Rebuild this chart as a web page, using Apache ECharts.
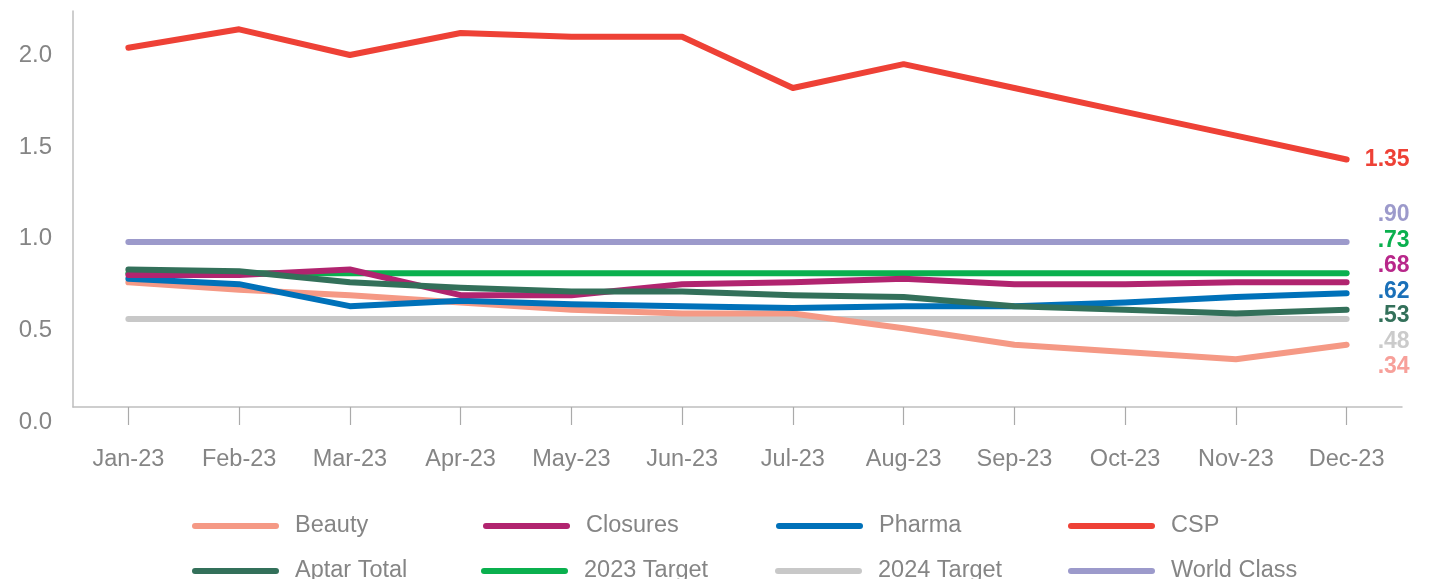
<!DOCTYPE html>
<html>
<head>
<meta charset="utf-8">
<script src="https://cdn.jsdelivr.net/npm/echarts@6/dist/echarts.min.js"></script>
<style>
html,body{margin:0;padding:0;background:#fff;}
#chart{width:1437px;height:579px;}
</style>
</head>
<body>
<div id="chart"></div>
<script>
const months = ['Jan-23','Feb-23','Mar-23','Apr-23','May-23','Jun-23','Jul-23','Aug-23','Sep-23','Oct-23','Nov-23','Dec-23'];
const beauty     = [0.68,0.64,0.61,0.57,0.53,0.51,0.51,0.43,0.34,0.30,0.26,0.34];
const closures   = [0.72,0.72,0.75,0.61,0.61,0.67,0.68,0.70,0.67,0.67,0.68,0.68];
const pharma     = [0.70,0.67,0.55,0.58,0.56,0.55,0.54,0.55,0.55,0.57,0.60,0.62];
const csp        = [1.96,2.06,1.92,2.04,2.02,2.02,1.74,1.87,1.74,1.61,1.48,1.35];
const aptarTotal = [0.75,0.74,0.68,0.65,0.63,0.63,0.61,0.60,0.55,0.53,0.51,0.53];
const target2023 = [0.73,0.73,0.73,0.73,0.73,0.73,0.73,0.73,0.73,0.73,0.73,0.73];
const target2024 = [0.48,0.48,0.48,0.48,0.48,0.48,0.48,0.48,0.48,0.48,0.48,0.48];
const worldClass = [0.90,0.90,0.90,0.90,0.90,0.90,0.90,0.90,0.90,0.90,0.90,0.90];
const endLabels  = {'Beauty':'.34','Closures':'.68','Pharma':'.62','CSP':'1.35','Aptar Total':'.53','2023 Target':'.73','2024 Target':'.48','World Class':'.90'};

const FONT = '"Liberation Sans", Arial, Helvetica, sans-serif';
const seriesDefs = [
  {name:'World Class', data:worldClass, color:'#9C9ACB', labelColor:'#9C9ACB', dy:-27},
  {name:'2024 Target', data:target2024, color:'#C8C8C8', labelColor:'#CBCBCB', dy:23},
  {name:'2023 Target', data:target2023, color:'#0AB04E', labelColor:'#0AB04E', dy:-33},
  {name:'Beauty', data:beauty, color:'#F59985', labelColor:'#F7A09A', dy:22},
  {name:'Pharma', data:pharma, color:'#0071B9', labelColor:'#1B70B8', dy:-2},
  {name:'Closures', data:closures, color:'#B1246F', labelColor:'#B8278A', dy:-17},
  {name:'Aptar Total', data:aptarTotal, color:'#33705A', labelColor:'#33705A', dy:6},
  {name:'CSP', data:csp, color:'#EE4136', labelColor:'#EE4136', dy:0}
];

const series = seriesDefs.map(d => ({
  name: d.name,
  type: 'line',
  data: d.data,
  symbol: 'none',
  smooth: false,
  color: d.color,
  lineStyle: {width: 6, color: d.color, cap: 'round', join: 'round'},
  emphasis: {disabled: true},
  endLabel: {
    show: true,
    formatter: () => endLabels[d.name],
    color: d.labelColor,
    fontFamily: FONT,
    fontSize: 23,
    fontWeight: 'bold',
    distance: 0,
    align: 'right',
    offset: [63, d.dy]
  }
}));

const pill = 'path://M3,0 L84,0 A3,3 0 0 1 84,6 L3,6 A3,3 0 0 1 3,0 Z';
const legendPlaces = [
  ['Beauty', 192, 511], ['Closures', 483, 511], ['Pharma', 776, 511], ['CSP', 1068, 511],
  ['Aptar Total', 192, 556], ['2023 Target', 481, 556], ['2024 Target', 775, 556], ['World Class', 1068, 556]
];
const legends = legendPlaces.map(([n, left, top]) => ({
  data: [{name: n, icon: pill}],
  left: left,
  top: top,
  padding: 0,
  itemWidth: 87,
  itemHeight: 6,
  selectedMode: false,
  textStyle: {fontFamily: FONT, fontSize: 23.5, color: '#858585', lineHeight: 26, padding: [0,0,4,11]}
}));

const chart = echarts.init(document.getElementById('chart'), null, {renderer: 'canvas'});
chart.setOption({
  animation: false,
  backgroundColor: '#fff',
  grid: {left: 73, right: 35, top: 11, bottom: 172, containLabel: false},
  legend: legends,
  xAxis: {
    type: 'category',
    data: months,
    boundaryGap: true,
    axisLine: {lineStyle: {color: '#BEBEBE', width: 1.5}},
    axisTick: {show: true, alignWithLabel: true, length: 18, lineStyle: {color: '#AAAAAA', width: 1.2}},
    axisLabel: {fontFamily: FONT, fontSize: 23.5, color: '#858585', margin: 41, interval: 0},
    splitLine: {show: false}
  },
  yAxis: {
    type: 'value',
    min: 0,
    max: 2.16,
    interval: 0.5,
    axisLine: {show: true, lineStyle: {color: '#BEBEBE', width: 1.5}},
    axisTick: {show: false},
    splitLine: {show: false},
    axisLabel: {
      fontFamily: FONT, fontSize: 24, color: '#858585', margin: 21,
      showMaxLabel: false,
      verticalAlign: 'top',
      lineHeight: 30,
      formatter: v => v.toFixed(1)
    }
  },
  series: series
});
</script>
</body>
</html>
